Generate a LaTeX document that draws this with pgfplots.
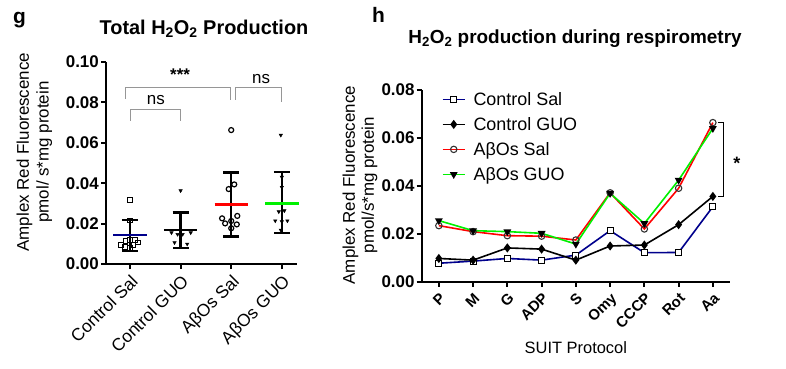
\documentclass[border=0pt]{standalone}
\usepackage{pgfplots}
\pgfplotsset{compat=1.18}
\usepackage{fontspec}
\setmainfont{Liberation Sans}
\definecolor{navyb}{RGB}{0,0,140}
\definecolor{brgreen}{RGB}{0,240,0}
\definecolor{brkgray}{RGB}{150,150,150}
\begin{document}
\begin{tikzpicture}[x=1bp,y=1bp]
\path[use as bounding box] (0,0) rectangle (786,368);
\pgfplotsset{
  common/.style={scale only axis, anchor=south west, axis lines=left,
    axis line style={-, line width=1.8bp, black},
    tick align=outside, major tick length=5bp,
    tick style={line width=1.8bp, black}, clip=false, scaled y ticks=false,
    /pgf/number format/assume math mode=true,
    yticklabel style={font=\bfseries\fontsize{17}{19}\selectfont, inner sep=2bp,
      /pgf/number format/.cd, fixed, fixed zerofill, precision=2},
  },
}
% ---------------- panel g ----------------
\begin{axis}[common, at={(106bp,104bp)}, width=191bp, height=202bp,
  xmin=-0.474, xmax=3.30, ymin=0, ymax=0.10,
  ytick={0,0.02,0.04,0.06,0.08,0.10}, xtick={0,1,2,3},
  xticklabels={Control Sal, Control GUO, AβOs Sal, AβOs GUO},
  xticklabel style={rotate=45, anchor=north east, font=\fontsize{17.5}{19}\selectfont, inner sep=3bp},
  ylabel={Amplex Red Fluorescence\\pmol/ s*mg protein},
  every axis y label/.style={at={(axis description cs:-0.375,0.554)}, rotate=90, anchor=center, align=center, font=\fontsize{17}{20}\selectfont},
]
% individual points
\addplot[only marks, mark=square, mark size=2.3bp, mark options={line width=1.1bp, black, fill=white}] coordinates {
 (0,0.0317) (0,0.0215) (-0.18,0.0094) (-0.10,0.0084) (-0.09,0.0115) (0.0,0.0119)
 (0.07,0.0094) (0.10,0.0119) (0.16,0.0106) (0.0,0.0080)};
\addplot[only marks, mark=triangle*, mark size=2bp, mark options={rotate=180, black}] coordinates {
 (1.0,0.0363) (0.82,0.0155) (0.94,0.0147) (1.04,0.0147) (1.2,0.0155) (0.88,0.0106) (1.13,0.0099) (1.0,0.0140)};
\addplot[only marks, mark=o, mark size=2.5bp, mark options={line width=1.2bp, black}] coordinates {
 (1.95,0.0371) (2.06,0.0394) (1.82,0.0226) (1.88,0.0201) (2.0,0.0213) (2.12,0.0238) (2.11,0.0196) (2.0,0.0177) (2.0,0.0663)};
\addplot[only marks, mark=triangle*, mark size=2bp, mark options={rotate=180, black}] coordinates {
 (2.94,0.0259) (3.05,0.0264) (2.87,0.0214) (3.11,0.0214) (2.98,0.0168) (2.98,0.0638) (3.0,0.043) (3.0,0.038) (3.0,0.021)};
% mean +- SD
\addplot[draw=none, mark=none, error bars/.cd, y dir=both, y explicit,
  error bar style={line width=2.4bp, black},
  error mark options={rotate=90, mark size=8bp, line width=2.4bp, black}]
  coordinates {(0,0.0141) +- (0,0.0077) (1,0.0166) +- (0,0.0088) (2,0.0295) +- (0,0.0158) (3,0.0303) +- (0,0.0151)};
\addplot[navyb, line width=2.6bp] coordinates {(-0.33,0.0143) (0.33,0.0143)};
\addplot[black, line width=2.6bp] coordinates {(0.67,0.0168) (1.33,0.0168)};
\addplot[red, line width=2.6bp] coordinates {(1.67,0.0295) (2.33,0.0295)};
\addplot[brgreen, line width=2.6bp] coordinates {(2.67,0.0300) (3.33,0.0300)};
% significance brackets
\draw[brkgray, line width=1bp] (axis cs:-0.08,0.0817) -- (axis cs:-0.08,0.0873) -- (axis cs:1.99,0.0873) -- (axis cs:1.99,0.0812);
\draw[brkgray, line width=1bp] (axis cs:0.01,0.0708) -- (axis cs:0.01,0.0767) -- (axis cs:0.99,0.0767) -- (axis cs:0.99,0.0708);
\draw[brkgray, line width=1bp] (axis cs:2.08,0.0812) -- (axis cs:2.08,0.0873) -- (axis cs:3.0,0.0873) -- (axis cs:3.0,0.0804);
\node[font=\fontsize{17}{19}\selectfont\bfseries] at (axis cs:0.99,0.0935) {***};
\node[font=\fontsize{17}{19}\selectfont] at (axis cs:0.51,0.0812) {ns};
\node[font=\fontsize{17}{19}\selectfont] at (axis cs:2.59,0.0918) {ns};
\end{axis}
% ---------------- panel h ----------------
\begin{axis}[common, at={(421.7bp,86.3bp)}, width=308.3bp, height=191.7bp,
  xmin=-0.5, xmax=8.5, ymin=0, ymax=0.08,
  ytick={0,0.02,0.04,0.06,0.08}, xtick={0,1,2,3,4,5,6,7,8},
  xticklabels={P,M,G,ADP,S,Omy,CCCP,Rot,Aa},
  xticklabel style={rotate=45, anchor=north east, font=\bfseries\fontsize{15}{17}\selectfont, inner sep=3.5bp},
  ylabel={Amplex Red Fluorescence\\pmol/s*mg protein},
  every axis y label/.style={at={(axis description cs:-0.2,0.504)}, rotate=90, anchor=center, align=center, font=\fontsize{17}{19}\selectfont},
  xlabel={SUIT Protocol},
  every axis x label/.style={at={(axis description cs:0.5,-0.346)}, anchor=center, font=\fontsize{16.5}{19}\selectfont},
  legend style={at={(axis description cs:0.065,1.0)}, anchor=north west, draw=none, fill=none,
    font=\fontsize{18}{20}\selectfont, row sep=6.5bp, column sep=6bp, inner sep=0pt},
  legend cell align=left,
  legend image code/.code={\draw[mark repeat=2,mark phase=2,#1] plot coordinates {(0bp,0bp) (11bp,0bp) (22bp,0bp)};},
]
\addplot[navyb, line width=1.6bp, mark=square*, mark size=3bp, mark options={draw=black, fill=white, line width=1.1bp}] coordinates {
 (0,0.0077) (1,0.0086) (2,0.0097) (3,0.0090) (4,0.0111) (5,0.0213) (6,0.0121) (7,0.0122) (8,0.0313)};
\addlegendentry{Control Sal}
\addplot[black, line width=1.6bp, mark=diamond*, mark size=3.3bp, mark options={black}] coordinates {
 (0,0.0097) (1,0.0090) (2,0.0141) (3,0.0136) (4,0.0090) (5,0.0149) (6,0.0153) (7,0.0238) (8,0.0356)};
\addlegendentry{Control GUO}
\addplot[red, line width=1.6bp, mark=o, mark size=3.2bp, mark options={draw=black!80, line width=1.1bp}] coordinates {
 (0,0.0234) (1,0.0209) (2,0.0192) (3,0.0190) (4,0.0174) (5,0.0371) (6,0.0220) (7,0.0390) (8,0.0664)};
\addlegendentry{AβOs Sal}
\addplot[brgreen, line width=1.6bp, mark=triangle*, mark size=3bp, mark options={rotate=180, black}] coordinates {
 (0,0.0255) (1,0.0213) (2,0.0209) (3,0.0202) (4,0.0157) (5,0.0369) (6,0.0243) (7,0.0424) (8,0.0640)};
\addlegendentry{AβOs GUO}
\draw[black, line width=0.9bp] (axis cs:8.15,0.0664) -- (axis cs:8.3,0.0664) -- (axis cs:8.3,0.0356) -- (axis cs:8.15,0.0356);
\node[font=\bfseries\fontsize{18}{20}\selectfont] at (axis cs:8.7,0.0495) {*};
\end{axis}
% titles and panel letters
\node[anchor=base, font=\bfseries\fontsize{20}{22}\selectfont] at (204,334) {Total H\textsubscript{2}O\textsubscript{2} Production};
\node[anchor=base, font=\bfseries\fontsize{19}{22}\selectfont] at (575,325) {H\textsubscript{2}O\textsubscript{2} production during respirometry};
\node[anchor=base west, font=\bfseries\fontsize{21}{23}\selectfont, inner sep=0pt] at (13,345) {g};
\node[anchor=base west, font=\bfseries\fontsize{21}{23}\selectfont, inner sep=0pt] at (372,346) {h};
\end{tikzpicture}
\end{document}
